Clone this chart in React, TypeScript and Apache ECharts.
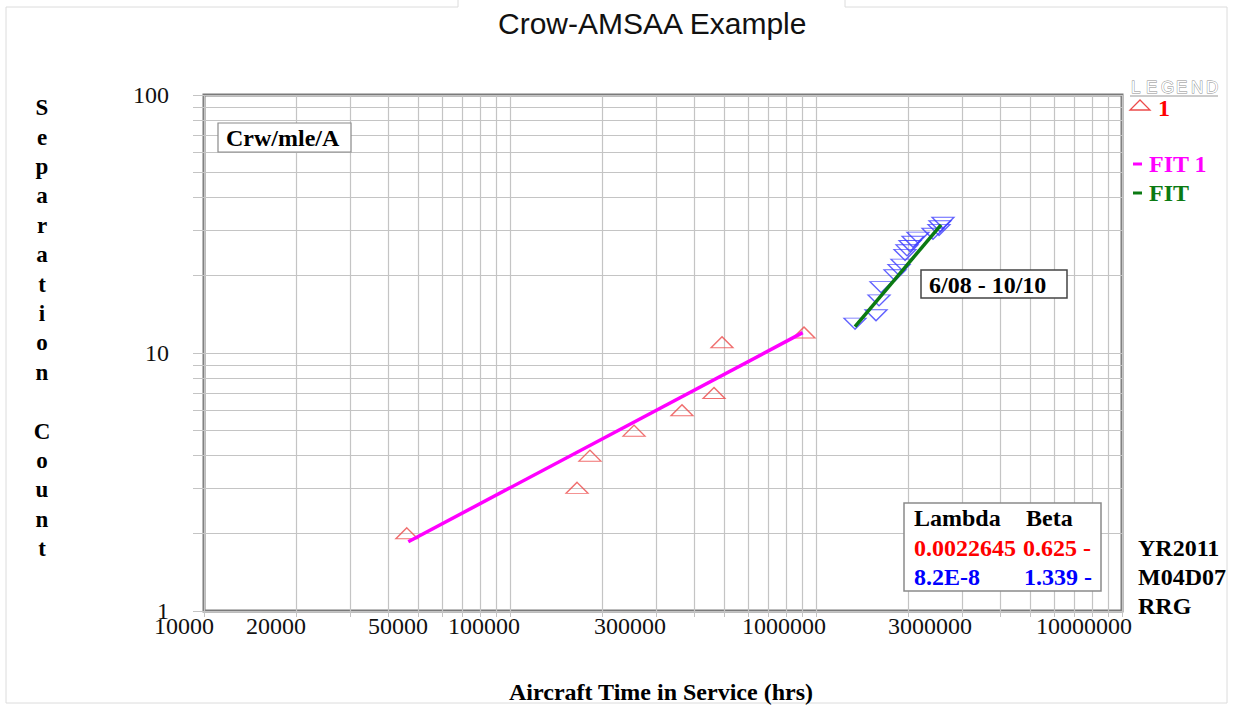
import React, { useEffect, useRef } from 'react';
import * as echarts from 'echarts';

// ---- data ----
const xTickLabels = [10000, 20000, 50000, 100000, 300000, 1000000, 3000000, 10000000];
const gridMultipliers = [1, 2, 3, 4, 5, 6, 7, 8, 9];
const xDecades = [10000, 100000, 1000000];
const yDecades = [1, 10];

const redTime = [46000, 165600, 182500, 254300, 364800, 464200, 493000, 913600];
const redCount = [2, 3, 4, 5, 6, 7, 11, 12];

const fit1Time = [46520, 904500];
const fit1Count = [1.856, 11.99];

const blueTime = [1341000, 1571000, 1607000, 1631000, 1813000, 1868000, 1910000, 1954000, 1984000, 2029000, 2075000, 2154000, 2412000, 2523000, 2542000, 2600000];
const blueCount = [13, 14, 16, 18, 20, 21, 22, 24, 25, 26, 27, 28, 29, 30, 31, 32];

const fit2Time = [1341000, 2562000];
const fit2Count = [12.65, 31.4];

const statsHeader = ['Lambda', 'Beta'];
const statsRed = ['0.0022645', '0.625 -'];
const statsBlue = ['8.2E-8', '1.339 -'];
const stampLines = ['YR2011', 'M04D07', 'RRG'];
const legendWord = ['L', 'E', 'G', 'E', 'N', 'D'];

const SERIF = "'Liberation Serif', 'Times New Roman', serif";
const SANS = "'Liberation Sans', Arial, sans-serif";

const xGridValues: number[] = [];
xDecades.forEach((d) => gridMultipliers.forEach((m) => xGridValues.push(d * m)));
xGridValues.push(10000000);
const yGridValues: number[] = [];
yDecades.forEach((d) => gridMultipliers.forEach((m) => yGridValues.push(d * m)));
yGridValues.push(100);

const zip = (a: number[], b: number[]) => a.map((v, i) => [v, b[i]]);

export default function App() {
  const ref = useRef<HTMLDivElement>(null);
  useEffect(() => {
    if (!ref.current) return;
    const chart = echarts.init(ref.current, null, { renderer: 'svg' });
    const gridColor = '#c4c4c4';
    const txt = (x: number, y: number, text: string, fill: string, opts: any = {}) => ({
      type: 'text',
      x,
      y,
      z: 110,
      style: {
        text,
        fill,
        font: opts.font || `bold 24px ${SERIF}`,
        textAlign: opts.align || 'left',
        textVerticalAlign: opts.valign || 'middle',
        lineHeight: opts.lineHeight,
      },
    });
    chart.setOption({
      animation: false,
      backgroundColor: '#ffffff',
      title: {
        text: 'Crow-AMSAA Example',
        left: 493,
        top: 3,
        textStyle: { fontFamily: SANS, fontWeight: 'normal', fontSize: 30, color: '#111' },
      },
      grid: {
        left: 204,
        right: 111,
        top: 95,
        bottom: 98,
        show: true,
        borderColor: '#7a7a7a',
        borderWidth: 3,
        backgroundColor: 'transparent',
      },
      xAxis: {
        type: 'log',
        logBase: 10,
        min: 10000,
        max: 10000000,
        axisLine: { show: false },
        axisTick: { show: true, length: 6, customValues: xGridValues, lineStyle: { color: gridColor } },
        splitLine: { show: true, lineStyle: { color: gridColor, width: 1.2 } },
        axisLabel: {
          customValues: xTickLabels,
          formatter: (v: number) => String(Math.round(v)),
          fontFamily: SERIF,
          fontSize: 24,
          color: '#111',
          align: 'right',
          padding: [0, -10, 0, 0],
          margin: 3,
        },
      },
      yAxis: {
        type: 'log',
        logBase: 10,
        min: 1,
        max: 100,
        axisLine: { show: false },
        axisTick: { show: true, length: 11, customValues: yGridValues, lineStyle: { color: gridColor } },
        splitLine: { show: true, lineStyle: { color: gridColor, width: 1.2 } },
        axisLabel: {
          fontFamily: SERIF,
          fontSize: 24,
          color: '#111',
          margin: 35,
          formatter: (v: number) => String(Math.round(v)),
        },
      },
      series: [
        {
          name: '1',
          type: 'scatter',
          data: zip(redTime, redCount),
          symbol: 'triangle',
          symbolSize: [22, 11],
          itemStyle: { color: 'rgba(255,255,255,0)', borderColor: '#ec4b4b', borderWidth: 1.3 },
          z: 3,
        },
        {
          name: 'FIT 1',
          type: 'line',
          data: zip(fit1Time, fit1Count),
          symbol: 'none',
          lineStyle: { color: '#ff00ff', width: 3.5 },
          z: 4,
        },
        {
          name: '2',
          type: 'scatter',
          data: zip(blueTime, blueCount),
          symbol: 'triangle',
          symbolRotate: 180,
          symbolSize: [22, 11],
          itemStyle: { color: 'rgba(255,255,255,0)', borderColor: '#3a3aff', borderWidth: 1.3 },
          z: 3,
        },
        {
          name: 'FIT',
          type: 'line',
          data: zip(fit2Time, fit2Count),
          symbol: 'none',
          lineStyle: { color: '#0b7a12', width: 3.5 },
          z: 4,
        },
      ],
      graphic: [
        // outer light border
        {
          type: 'polyline',
          z: 1,
          shape: { points: [[458, 0], [458, 7], [6, 7], [6, 703], [1227, 703], [1227, 7], [845, 7], [845, 0]] },
          style: { stroke: '#dcdcdc', lineWidth: 1, fill: 'none' },
        },
        // y axis name (stacked letters)
        txt(42, 93, 'S\ne\np\na\nr\na\nt\ni\no\nn\n \nC\no\nu\nn\nt', '#000', {
          align: 'center',
          valign: 'top',
          lineHeight: 29.4,
          font: `bold 23px ${SERIF}`,
        }),
        // x axis name
        txt(661, 692, 'Aircraft Time in Service (hrs)', '#000', { align: 'center', font: `bold 24px ${SERIF}` }),
        // Crw/mle/A box
        { type: 'rect', z: 105, shape: { x: 218, y: 123, width: 133, height: 29 }, style: { fill: '#fff', stroke: '#8a8a8a', lineWidth: 1.2 } },
        txt(226, 138, 'Crw/mle/A', '#000'),
        // 6/08 - 10/10 box
        { type: 'rect', z: 105, shape: { x: 921, y: 270, width: 146, height: 28 }, style: { fill: '#fff', stroke: '#444', lineWidth: 1.5 } },
        txt(929, 285, '6/08 - 10/10', '#000'),
        // stats box
        { type: 'rect', z: 105, shape: { x: 904, y: 503, width: 197, height: 88 }, style: { fill: '#fff', stroke: '#8a8a8a', lineWidth: 1.5 } },
        txt(914, 518, statsHeader[0], '#000'),
        txt(1026, 518, statsHeader[1], '#000'),
        txt(914, 548, statsRed[0], '#ff0000'),
        txt(1023, 548, statsRed[1], '#ff0000'),
        txt(914, 577, statsBlue[0], '#0000ff'),
        txt(1024, 577, statsBlue[1], '#0000ff'),
        txt(1138, 548, stampLines[0], '#000'),
        txt(1138, 577, stampLines[1], '#000'),
        txt(1138, 606, stampLines[2], '#000'),
        // legend
        ...legendWord.map((ch, i) => ({
          type: 'text',
          x: 1131 + i * 15,
          y: 87,
          z: 110,
          style: { text: ch, font: `17px ${SANS}`, fill: '#fff', stroke: '#8c8c8c', lineWidth: 0.9, textVerticalAlign: 'middle' },
        })),
        { type: 'line', z: 110, shape: { x1: 1130, y1: 96, x2: 1218, y2: 96 }, style: { stroke: '#9a9a9a', lineWidth: 1.2 } },
        { type: 'polygon', z: 110, shape: { points: [[1130, 110], [1150, 110], [1140, 100]] }, style: { fill: 'none', stroke: '#ec4b4b', lineWidth: 1.3 } },
        txt(1158, 108, '1', '#ff0000', { font: `bold 24px ${SERIF}` }),
        { type: 'line', z: 110, shape: { x1: 1133, y1: 164, x2: 1142, y2: 164 }, style: { stroke: '#ff00ff', lineWidth: 3 } },
        txt(1149, 164, 'FIT 1', '#ff00ff', { font: `bold 24px ${SERIF}` }),
        { type: 'line', z: 110, shape: { x1: 1133, y1: 193, x2: 1142, y2: 193 }, style: { stroke: '#0b7a12', lineWidth: 3 } },
        txt(1149, 193, 'FIT', '#0b7a12', { font: `bold 24px ${SERIF}` }),
      ],
    });
    return () => chart.dispose();
  }, []);
  return (
    <div
      ref={ref}
      style={{ position: 'fixed', left: 0, top: 0, width: 1233, height: 709, background: '#fff' }}
    />
  );
}
